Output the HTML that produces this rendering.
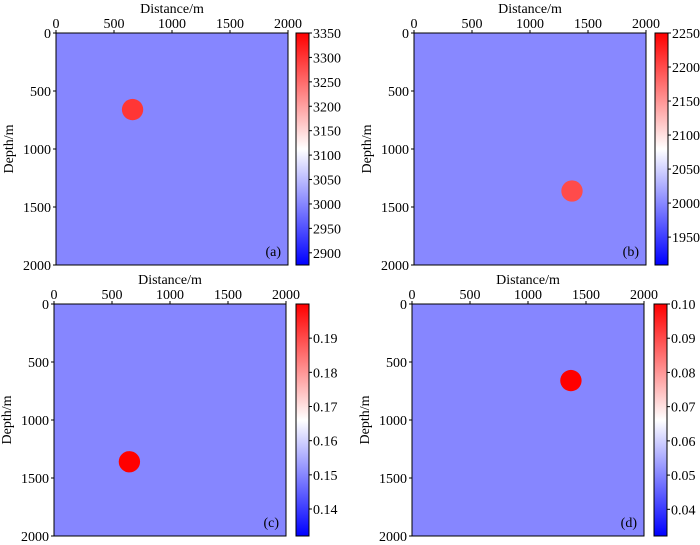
<!DOCTYPE html>
<html><head><meta charset="utf-8"><style>
body{margin:0;background:#fff;}
svg{display:block;font-family:"Liberation Serif",serif;}
</style></head><body>
<svg id="chart" width="700" height="545" viewBox="0 0 700 545" xmlns="http://www.w3.org/2000/svg"></svg>
<script>
const panelLabels = ["(a)","(b)","(c)","(d)"];
const backgroundValues = [3000, 2000, 0.15, 0.05];
const anomalyValues = [3300, 2200, 0.2, 0.1];
const anomalyCenterX = [660, 1362, 650, 1370];
const anomalyCenterZ = [660, 1362, 1360, 660];
const anomalyRadius = [92, 92, 92, 92];
const colorMin = [2875, 1909, 0.1321, 0.0322];
const colorMax = [3350, 2250, 0.2, 0.10];
const cbTicks = [
  [2900,2950,3000,3050,3100,3150,3200,3250,3300,3350],
  [1950,2000,2050,2100,2150,2200,2250],
  [0.14,0.15,0.16,0.17,0.18,0.19],
  [0.04,0.05,0.06,0.07,0.08,0.09,0.10]
];
const cbDecimals = [0,0,2,2];
const axisTicks = [0,500,1000,1500,2000];

const layout = [{x:56,y:33,cb:296},{x:414,y:33,cb:655},{x:54,y:304,cb:296},{x:412,y:304,cb:654}];
const SZ = 232, CBW = 13, DMAX = 2000, FS = 14;
const svg = document.getElementById('chart');
const NS = "http://www.w3.org/2000/svg";
function mk(tag, attrs, parent){const e=document.createElementNS(NS,tag);for(const k in attrs)e.setAttribute(k,attrs[k]);(parent||svg).appendChild(e);return e;}
function bwr(f){f=Math.max(0,Math.min(1,f));let r,g,b;if(f<0.5){r=g=2*f;b=1;}else{r=1;g=b=2*(1-f);}return `rgb(${Math.round(r*255)},${Math.round(g*255)},${Math.round(b*255)})`;}

let gid=0;
for(let i=0;i<4;i++){
  const L=layout[i];
  const g=mk('g',{});
  
  
  const sx=v=>L.x+v/DMAX*SZ, sy=v=>L.y+v/DMAX*SZ;
  const cf=v=>(v-colorMin[i])/(colorMax[i]-colorMin[i]);
  const bg=mk('rect',{x:L.x,y:L.y,width:SZ,height:SZ,fill:bwr(cf(backgroundValues[i]))},g);
  
  
  const c=mk('circle',{cx:sx(anomalyCenterX[i]),cy:sy(anomalyCenterZ[i]),r:anomalyRadius[i]/DMAX*SZ,fill:bwr(cf(anomalyValues[i]))},g);
  
  
  mk('rect',{x:L.x,y:L.y,width:SZ,height:SZ,fill:'none',stroke:'#000','stroke-width':1},g);
  axisTicks.forEach(t=>{
    mk('line',{x1:sx(t),x2:sx(t),y1:L.y,y2:L.y-3,stroke:'#000'},g);
    const tx=mk('text',{x:sx(t),y:L.y-5,'text-anchor':'middle','font-size':FS},g);tx.textContent=t;
    
    
    mk('line',{x1:L.x,x2:L.x-3,y1:sy(t),y2:sy(t),stroke:'#000'},g);
    const ty=mk('text',{x:L.x-5,y:sy(t)+5,'text-anchor':'end','font-size':FS},g);ty.textContent=t;
    
    
  });
  const xt=mk('text',{x:L.x+SZ/2,y:L.y-20,'text-anchor':'middle','font-size':FS},g);xt.textContent='Distance/m';
  
  
  const yt=mk('text',{x:0,y:0,'text-anchor':'middle','font-size':FS,transform:`translate(${L.x-43},${L.y+SZ/2}) rotate(-90)`},g);yt.textContent='Depth/m';
  
  
  const pl=mk('text',{x:L.x+SZ-7,y:L.y+SZ-9,'text-anchor':'end','font-size':FS},g);pl.textContent=panelLabels[i];
  
  
  const id='cb'+(gid++);
  const grad=mk('linearGradient',{id:id,x1:0,y1:1,x2:0,y2:0},g);
  mk('stop',{offset:0,'stop-color':'#0000ff'},grad);
  mk('stop',{offset:0.5,'stop-color':'#ffffff'},grad);
  mk('stop',{offset:1,'stop-color':'#ff0000'},grad);
  const cb=mk('rect',{x:L.cb,y:L.y,width:CBW,height:SZ,fill:`url(#${id})`,stroke:'#000','stroke-width':1},g);
  
  
  const cy=v=>L.y+SZ-(v-colorMin[i])/(colorMax[i]-colorMin[i])*SZ;
  cbTicks[i].forEach(t=>{
    const y=cy(t);
    mk('line',{x1:L.cb+CBW,x2:L.cb+CBW+3,y1:y,y2:y,stroke:'#000'},g);
    const tl=mk('text',{x:L.cb+CBW+4,y:y+5,'font-size':FS},g);tl.textContent=t.toFixed(cbDecimals[i]);
    
    
  });
}
</script>
</body></html>
